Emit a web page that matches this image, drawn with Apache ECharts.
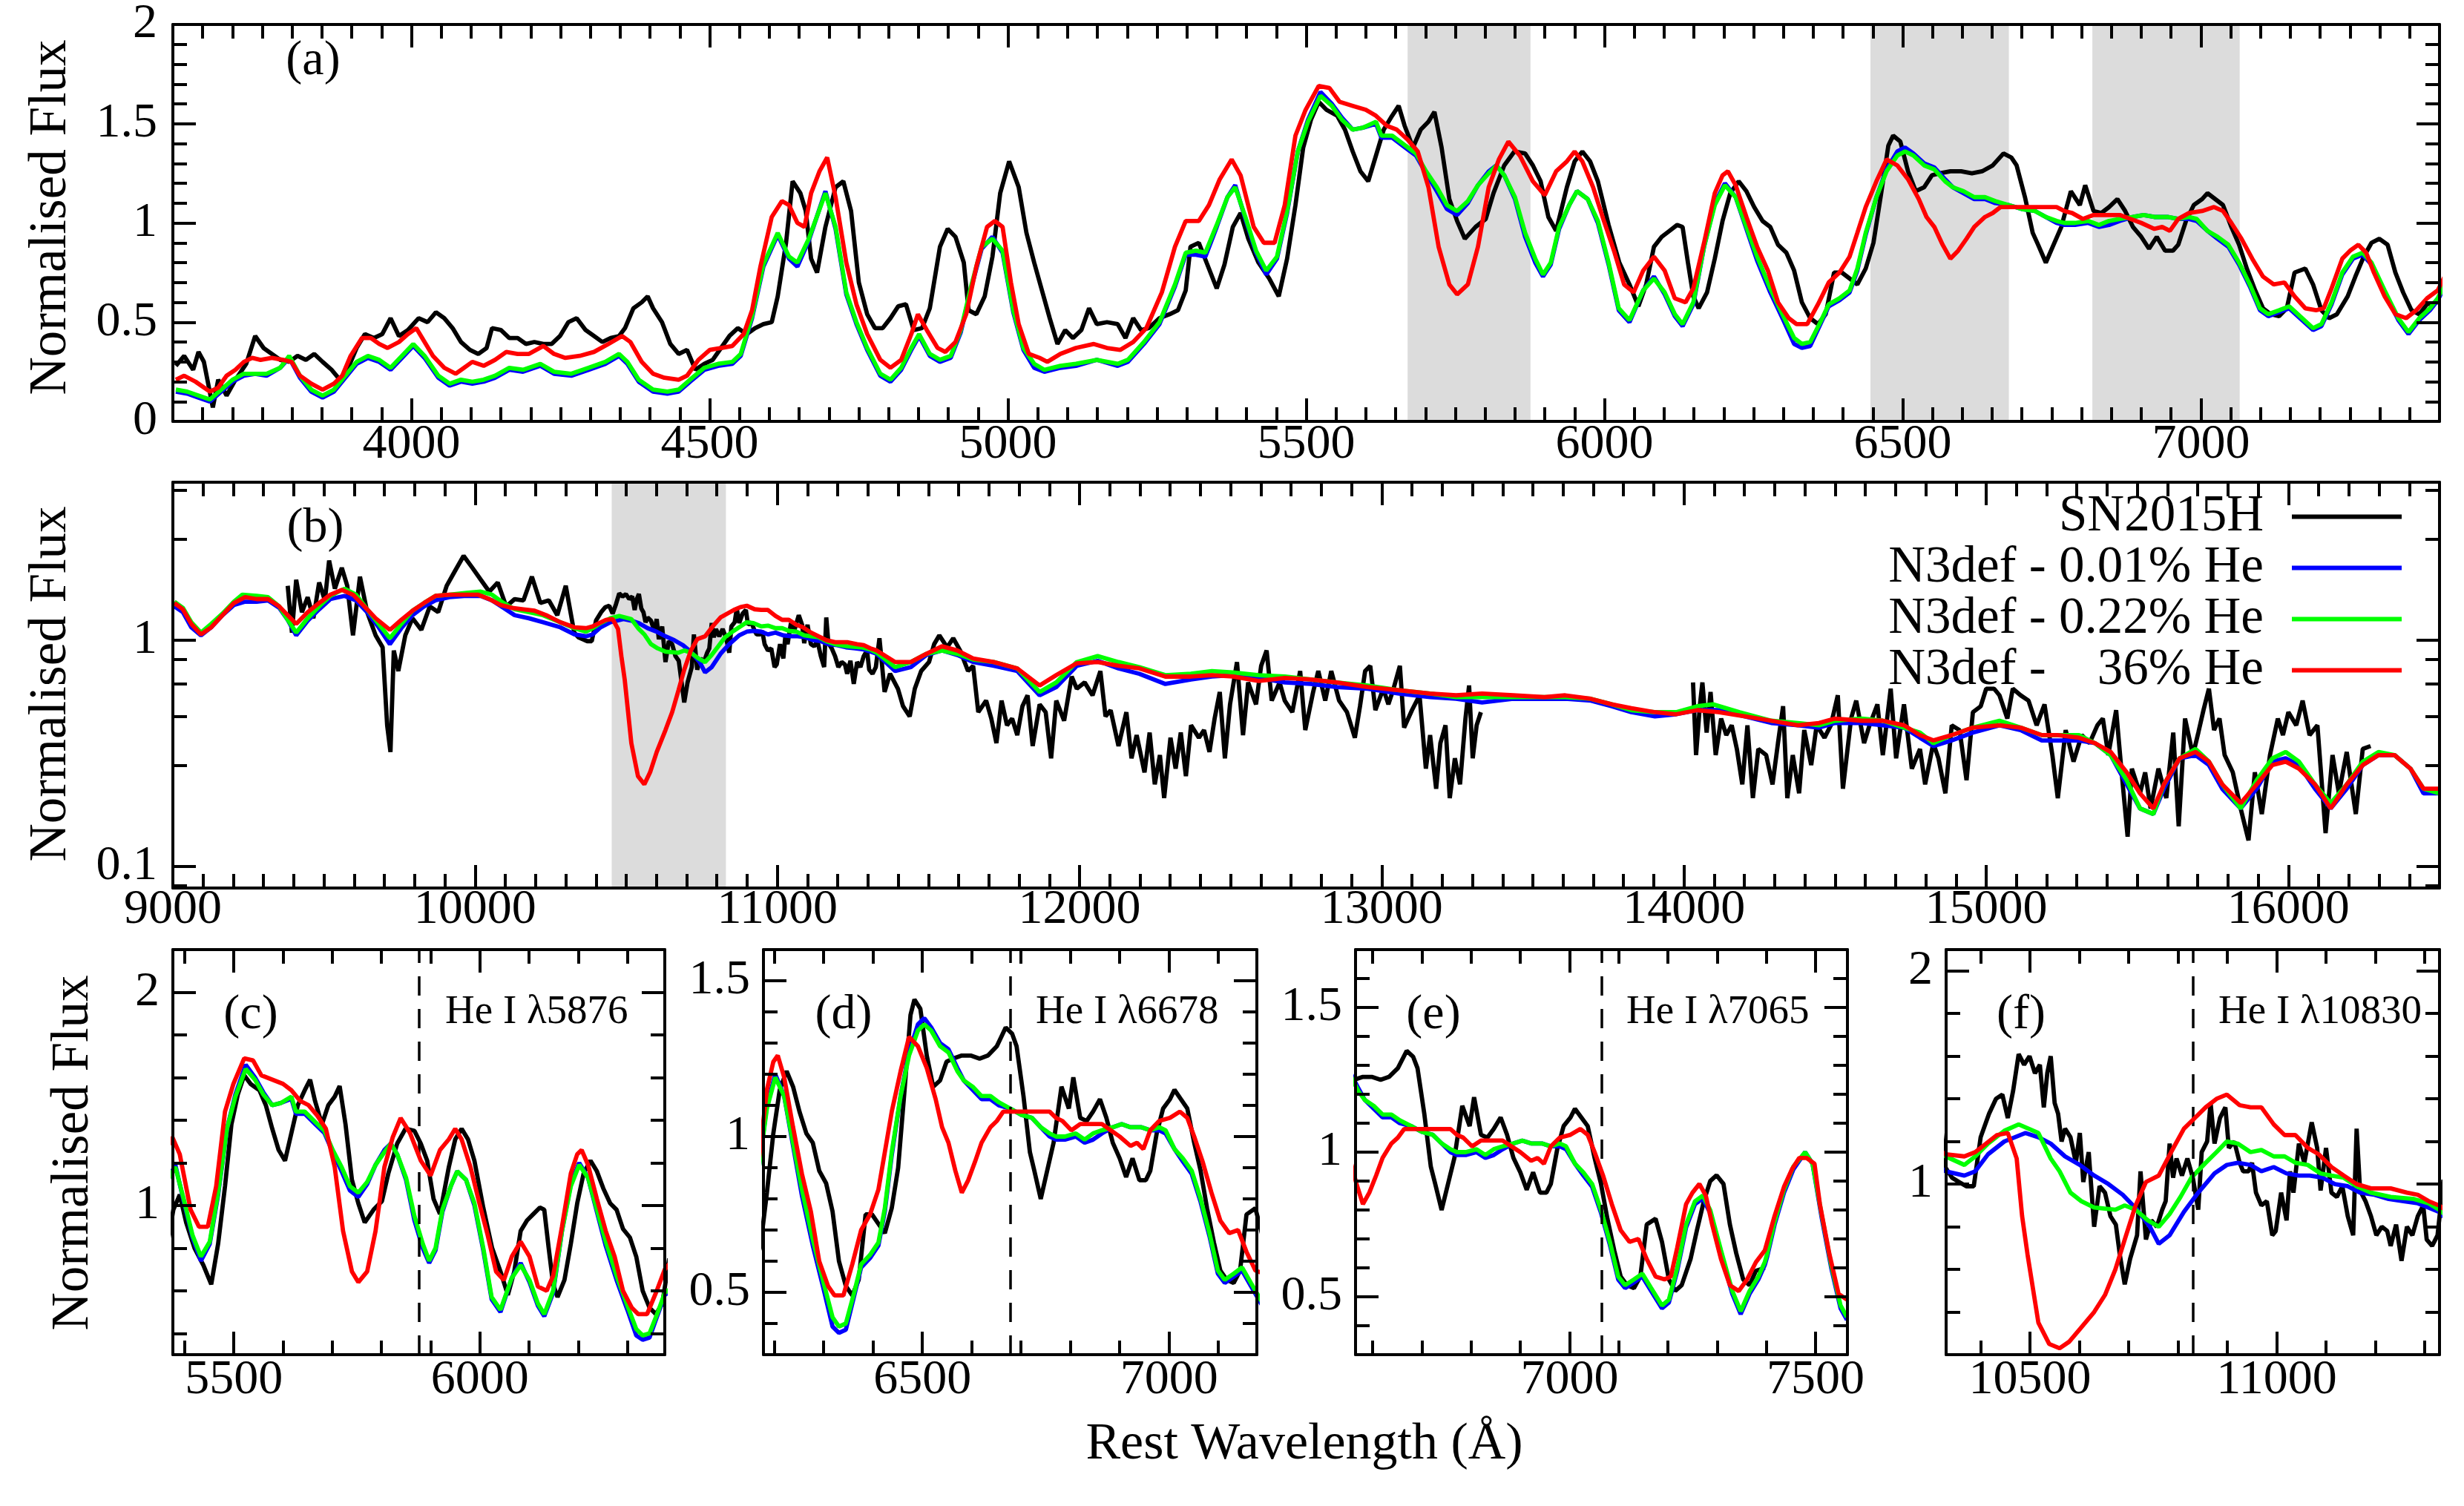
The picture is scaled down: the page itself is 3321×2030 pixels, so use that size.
<!DOCTYPE html>
<html>
<head>
<meta charset="utf-8">
<script src="https://cdn.jsdelivr.net/npm/echarts@6/dist/echarts.min.js"></script>
<style>
html,body{margin:0;padding:0;background:#fff;}
#c{width:3321px;height:2030px;}
</style>
</head>
<body>
<div id="c"></div>
<script>
// ---------------- DATA (wavelength in Angstrom, normalised flux) ----------------
const seriesNames = ['SN2015H', 'N3def - 0.01% He', 'N3def - 0.22% He', 'N3def -    36% He'];

// Optical range (panels a, c, d, e)
const obsOptical = [[3605,0.28],[3619,0.33],[3634,0.26],[3643,0.35],[3652,0.30],[3667,0.07],[3676,0.21],[3690,0.13],[3705,0.21],[3723,0.29],[3738,0.43],[3752,0.37],[3766,0.34],[3780,0.31],[3795,0.30],[3809,0.33],[3823,0.31],[3837,0.34],[3851,0.30],[3866,0.26],[3880,0.21],[3894,0.27],[3908,0.37],[3922,0.44],[3937,0.42],[3951,0.44],[3965,0.52],[3979,0.43],[3994,0.46],[4012,0.52],[4027,0.50],[4041,0.55],[4055,0.52],[4069,0.47],[4083,0.40],[4098,0.36],[4112,0.34],[4126,0.37],[4135,0.47],[4150,0.46],[4164,0.42],[4178,0.42],[4192,0.39],[4206,0.40],[4221,0.39],[4235,0.39],[4249,0.43],[4263,0.50],[4277,0.52],[4292,0.46],[4306,0.43],[4320,0.40],[4334,0.42],[4348,0.43],[4358,0.47],[4372,0.57],[4386,0.60],[4396,0.63],[4405,0.57],[4420,0.50],[4434,0.39],[4448,0.34],[4462,0.36],[4476,0.26],[4491,0.29],[4505,0.31],[4519,0.37],[4533,0.43],[4547,0.47],[4562,0.44],[4576,0.47],[4590,0.49],[4604,0.50],[4614,0.63],[4628,0.90],[4639,1.21],[4652,1.15],[4661,1.06],[4670,0.82],[4680,0.75],[4694,0.98],[4711,1.18],[4724,1.21],[4737,1.06],[4750,0.70],[4764,0.54],[4777,0.47],[4790,0.47],[4803,0.52],[4816,0.58],[4829,0.59],[4842,0.46],[4856,0.47],[4869,0.57],[4886,0.88],[4899,0.97],[4912,0.93],[4926,0.80],[4934,0.56],[4947,0.54],[4961,0.63],[4974,0.83],[4987,1.15],[5002,1.31],[5018,1.18],[5031,0.95],[5044,0.80],[5057,0.66],[5070,0.52],[5083,0.39],[5096,0.46],[5109,0.42],[5123,0.46],[5136,0.57],[5149,0.49],[5166,0.50],[5184,0.49],[5197,0.42],[5210,0.52],[5223,0.46],[5236,0.47],[5254,0.52],[5271,0.54],[5285,0.56],[5298,0.66],[5306,0.88],[5320,0.90],[5333,0.80],[5350,0.67],[5363,0.79],[5377,0.98],[5390,1.05],[5403,0.92],[5420,0.80],[5438,0.72],[5454,0.63],[5468,0.82],[5482,1.09],[5495,1.38],[5508,1.52],[5521,1.61],[5534,1.57],[5552,1.54],[5565,1.47],[5578,1.36],[5591,1.26],[5604,1.21],[5617,1.34],[5630,1.47],[5644,1.54],[5655,1.59],[5665,1.49],[5679,1.38],[5692,1.47],[5705,1.51],[5715,1.56],[5727,1.38],[5740,1.12],[5753,1.01],[5766,0.92],[5784,0.98],[5801,1.02],[5814,1.15],[5832,1.29],[5849,1.36],[5867,1.35],[5880,1.29],[5893,1.21],[5906,1.03],[5919,0.96],[5937,1.18],[5950,1.31],[5963,1.36],[5976,1.31],[5989,1.21],[6007,0.99],[6025,0.80],[6042,0.69],[6057,0.58],[6070,0.69],[6083,0.88],[6096,0.93],[6109,0.96],[6122,0.99],[6131,0.98],[6140,0.80],[6149,0.63],[6158,0.57],[6172,0.65],[6185,0.82],[6198,1.01],[6211,1.15],[6225,1.21],[6238,1.16],[6251,1.08],[6265,1.01],[6278,0.98],[6291,0.89],[6305,0.85],[6318,0.76],[6331,0.60],[6345,0.52],[6358,0.49],[6371,0.54],[6385,0.75],[6398,0.75],[6411,0.72],[6424,0.69],[6438,0.77],[6451,0.90],[6464,1.15],[6476,1.39],[6484,1.44],[6496,1.41],[6509,1.26],[6522,1.16],[6536,1.18],[6549,1.24],[6562,1.25],[6580,1.26],[6598,1.26],[6616,1.25],[6633,1.26],[6651,1.29],[6669,1.35],[6682,1.33],[6691,1.29],[6705,1.13],[6718,0.95],[6727,0.89],[6740,0.80],[6753,0.89],[6766,0.98],[6782,1.16],[6797,1.09],[6806,1.19],[6820,1.06],[6833,1.05],[6846,1.08],[6860,1.12],[6873,1.06],[6886,0.98],[6900,0.93],[6913,0.87],[6926,0.93],[6940,0.86],[6953,0.86],[6962,0.89],[6975,1.01],[6988,1.09],[7002,1.12],[7011,1.15],[7024,1.12],[7037,1.09],[7051,0.98],[7064,0.89],[7077,0.77],[7091,0.66],[7104,0.57],[7117,0.54],[7131,0.53],[7144,0.57],[7157,0.75],[7175,0.77],[7188,0.69],[7202,0.56],[7215,0.52],[7228,0.54],[7246,0.63],[7259,0.73],[7273,0.83],[7286,0.90],[7299,0.92],[7313,0.89],[7326,0.75],[7339,0.65],[7353,0.56],[7366,0.54],[7379,0.59],[7397,0.60]];

const he001Optical = [[3605,0.15],[3624,0.14],[3643,0.12],[3662,0.10],[3681,0.15],[3700,0.20],[3719,0.23],[3738,0.24],[3757,0.23],[3780,0.27],[3795,0.32],[3813,0.22],[3832,0.15],[3851,0.12],[3870,0.15],[3889,0.22],[3908,0.29],[3927,0.32],[3946,0.30],[3965,0.26],[3984,0.32],[4003,0.38],[4022,0.32],[4045,0.22],[4064,0.18],[4083,0.20],[4102,0.19],[4121,0.20],[4140,0.22],[4164,0.26],[4187,0.25],[4216,0.28],[4239,0.24],[4268,0.23],[4297,0.26],[4325,0.29],[4348,0.33],[4362,0.29],[4381,0.20],[4405,0.15],[4429,0.14],[4448,0.15],[4467,0.20],[4491,0.26],[4514,0.28],[4538,0.29],[4552,0.33],[4571,0.52],[4590,0.78],[4614,0.94],[4633,0.82],[4647,0.78],[4666,0.91],[4694,1.16],[4711,0.97],[4729,0.64],[4746,0.49],[4764,0.36],[4786,0.23],[4803,0.20],[4821,0.26],[4838,0.36],[4851,0.43],[4869,0.33],[4886,0.30],[4904,0.32],[4921,0.45],[4939,0.68],[4956,0.87],[4974,0.93],[4991,0.85],[5009,0.55],[5026,0.36],[5044,0.27],[5061,0.25],[5088,0.27],[5114,0.28],[5149,0.31],[5184,0.28],[5201,0.30],[5228,0.39],[5254,0.49],[5280,0.68],[5298,0.84],[5315,0.84],[5331,0.83],[5350,0.98],[5368,1.13],[5381,1.19],[5398,1.02],[5416,0.85],[5433,0.74],[5451,0.82],[5468,1.05],[5486,1.36],[5503,1.52],[5524,1.66],[5543,1.60],[5560,1.53],[5578,1.47],[5595,1.48],[5617,1.50],[5626,1.43],[5644,1.43],[5666,1.38],[5684,1.34],[5701,1.25],[5719,1.16],[5736,1.07],[5753,1.04],[5771,1.10],[5788,1.19],[5806,1.26],[5819,1.29],[5832,1.24],[5850,1.12],[5867,0.93],[5884,0.80],[5897,0.73],[5910,0.79],[5924,0.97],[5941,1.09],[5954,1.16],[5972,1.12],[5989,1.00],[6007,0.79],[6024,0.56],[6042,0.50],[6065,0.66],[6083,0.73],[6101,0.64],[6118,0.53],[6131,0.48],[6149,0.59],[6167,0.88],[6185,1.10],[6202,1.20],[6220,1.13],[6238,0.97],[6256,0.81],[6278,0.65],[6300,0.51],[6318,0.39],[6331,0.37],[6345,0.38],[6362,0.49],[6376,0.58],[6394,0.61],[6411,0.65],[6424,0.76],[6438,0.94],[6456,1.13],[6473,1.27],[6491,1.36],[6504,1.38],[6518,1.35],[6536,1.30],[6553,1.28],[6571,1.22],[6584,1.18],[6602,1.15],[6620,1.12],[6638,1.12],[6655,1.10],[6678,1.09],[6700,1.07],[6722,1.06],[6740,1.03],[6758,1.00],[6771,0.99],[6789,0.99],[6811,1.00],[6829,0.98],[6846,0.99],[6864,1.01],[6886,1.03],[6904,1.04],[6922,1.03],[6944,1.03],[6962,1.02],[6980,1.02],[6993,1.01],[7011,0.96],[7028,0.92],[7046,0.88],[7064,0.79],[7082,0.68],[7099,0.56],[7113,0.53],[7131,0.55],[7148,0.57],[7166,0.52],[7188,0.46],[7202,0.48],[7219,0.59],[7237,0.74],[7255,0.82],[7271,0.84],[7286,0.79],[7308,0.65],[7331,0.51],[7348,0.44],[7366,0.51],[7384,0.56],[7397,0.61],[7402,0.64],[7417,0.75],[7436,0.86],[7455,0.94],[7479,1.00],[7494,0.96],[7513,0.77],[7532,0.60],[7551,0.46],[7564,0.42]];

const he022Optical = [[3605,0.16],[3624,0.15],[3643,0.13],[3662,0.11],[3681,0.16],[3700,0.21],[3719,0.24],[3738,0.24],[3757,0.24],[3780,0.27],[3795,0.33],[3813,0.23],[3832,0.16],[3851,0.13],[3870,0.16],[3889,0.23],[3908,0.30],[3927,0.33],[3946,0.31],[3965,0.27],[3984,0.33],[4003,0.39],[4022,0.33],[4045,0.23],[4064,0.19],[4083,0.21],[4102,0.20],[4121,0.21],[4140,0.23],[4164,0.27],[4187,0.26],[4216,0.29],[4239,0.25],[4268,0.24],[4297,0.27],[4325,0.30],[4348,0.34],[4362,0.30],[4381,0.21],[4405,0.16],[4429,0.15],[4448,0.16],[4467,0.21],[4491,0.27],[4514,0.29],[4538,0.30],[4552,0.34],[4571,0.53],[4590,0.79],[4614,0.95],[4633,0.83],[4647,0.80],[4666,0.92],[4694,1.15],[4711,0.98],[4729,0.65],[4746,0.50],[4764,0.37],[4786,0.24],[4803,0.21],[4821,0.27],[4838,0.37],[4851,0.44],[4869,0.34],[4886,0.31],[4904,0.33],[4921,0.46],[4939,0.69],[4956,0.88],[4974,0.92],[4991,0.86],[5009,0.56],[5026,0.37],[5044,0.29],[5061,0.26],[5088,0.28],[5114,0.29],[5149,0.31],[5184,0.29],[5201,0.31],[5228,0.40],[5254,0.50],[5280,0.69],[5298,0.85],[5315,0.86],[5331,0.85],[5350,0.99],[5368,1.13],[5381,1.18],[5398,1.03],[5416,0.86],[5433,0.76],[5451,0.83],[5468,1.06],[5486,1.36],[5503,1.51],[5524,1.64],[5543,1.59],[5560,1.52],[5578,1.47],[5595,1.48],[5617,1.51],[5626,1.44],[5644,1.44],[5666,1.39],[5684,1.35],[5701,1.26],[5719,1.18],[5736,1.09],[5753,1.06],[5771,1.11],[5788,1.19],[5806,1.25],[5819,1.29],[5832,1.24],[5850,1.13],[5867,0.95],[5884,0.82],[5897,0.74],[5910,0.80],[5924,0.98],[5941,1.09],[5954,1.16],[5972,1.12],[5989,1.01],[6007,0.80],[6024,0.57],[6042,0.51],[6065,0.66],[6083,0.72],[6101,0.65],[6118,0.54],[6131,0.49],[6149,0.60],[6167,0.88],[6185,1.09],[6202,1.19],[6220,1.13],[6238,0.98],[6256,0.83],[6278,0.67],[6300,0.53],[6318,0.42],[6331,0.39],[6345,0.40],[6362,0.50],[6376,0.59],[6394,0.62],[6411,0.66],[6424,0.77],[6438,0.95],[6456,1.13],[6473,1.26],[6491,1.34],[6504,1.36],[6518,1.34],[6536,1.29],[6553,1.27],[6571,1.21],[6584,1.18],[6602,1.16],[6620,1.13],[6638,1.13],[6655,1.11],[6678,1.09],[6700,1.07],[6722,1.06],[6740,1.03],[6758,1.01],[6771,1.00],[6789,1.00],[6811,1.01],[6829,0.99],[6846,1.01],[6864,1.02],[6886,1.03],[6904,1.04],[6922,1.03],[6944,1.03],[6962,1.02],[6980,1.03],[6993,1.02],[7011,0.96],[7028,0.93],[7046,0.89],[7064,0.80],[7082,0.69],[7099,0.57],[7113,0.54],[7131,0.56],[7148,0.58],[7166,0.53],[7188,0.47],[7202,0.49],[7219,0.60],[7237,0.75],[7255,0.83],[7271,0.85],[7286,0.80],[7308,0.66],[7331,0.52],[7348,0.45],[7366,0.52],[7384,0.57],[7397,0.62],[7402,0.65],[7417,0.76],[7436,0.87],[7455,0.95],[7479,1.00],[7494,0.96],[7513,0.78],[7532,0.61],[7551,0.47],[7564,0.43]];

const he36Optical = [[3605,0.21],[3619,0.23],[3638,0.20],[3662,0.15],[3676,0.17],[3690,0.23],[3705,0.26],[3719,0.30],[3733,0.32],[3747,0.31],[3766,0.32],[3785,0.31],[3799,0.30],[3813,0.23],[3832,0.19],[3851,0.16],[3870,0.19],[3884,0.23],[3898,0.33],[3917,0.42],[3932,0.42],[3946,0.39],[3960,0.37],[3979,0.40],[3994,0.44],[4008,0.47],[4022,0.40],[4036,0.33],[4055,0.27],[4074,0.24],[4088,0.27],[4102,0.30],[4121,0.28],[4140,0.31],[4159,0.35],[4178,0.34],[4197,0.34],[4221,0.38],[4239,0.34],[4258,0.32],[4282,0.33],[4306,0.35],[4330,0.39],[4353,0.43],[4367,0.40],[4386,0.30],[4405,0.24],[4424,0.22],[4448,0.21],[4462,0.23],[4481,0.31],[4500,0.36],[4519,0.37],[4538,0.38],[4557,0.44],[4571,0.56],[4585,0.78],[4604,1.03],[4621,1.11],[4633,1.09],[4647,1.00],[4659,0.98],[4670,1.15],[4684,1.26],[4697,1.33],[4711,1.13],[4729,0.80],[4746,0.59],[4764,0.44],[4786,0.31],[4803,0.27],[4821,0.31],[4838,0.44],[4849,0.54],[4864,0.46],[4882,0.37],[4895,0.35],[4912,0.40],[4930,0.54],[4947,0.78],[4965,0.98],[4978,1.01],[4991,0.98],[5005,0.70],[5018,0.49],[5035,0.34],[5053,0.32],[5066,0.30],[5088,0.34],[5114,0.37],[5144,0.39],[5166,0.37],[5188,0.36],[5210,0.40],[5232,0.47],[5258,0.65],[5280,0.88],[5298,1.01],[5320,1.01],[5337,1.09],[5355,1.22],[5375,1.32],[5390,1.24],[5412,0.98],[5429,0.90],[5447,0.90],[5464,1.09],[5482,1.44],[5499,1.57],[5521,1.69],[5539,1.68],[5556,1.61],[5578,1.59],[5600,1.57],[5617,1.54],[5635,1.49],[5652,1.47],[5670,1.42],[5687,1.36],[5705,1.18],[5722,0.88],[5740,0.69],[5753,0.64],[5771,0.69],[5788,0.88],[5806,1.18],[5823,1.32],[5839,1.41],[5858,1.34],[5880,1.21],[5900,1.14],[5919,1.26],[5937,1.31],[5950,1.36],[5963,1.31],[5981,1.18],[5998,1.02],[6016,0.86],[6033,0.69],[6049,0.65],[6065,0.76],[6083,0.83],[6101,0.76],[6118,0.62],[6136,0.60],[6149,0.67],[6167,0.90],[6185,1.15],[6198,1.24],[6207,1.26],[6220,1.19],[6238,1.03],[6256,0.88],[6274,0.76],[6291,0.60],[6309,0.52],[6322,0.49],[6340,0.49],[6358,0.59],[6376,0.70],[6394,0.75],[6411,0.83],[6424,0.95],[6438,1.08],[6456,1.21],[6473,1.32],[6491,1.29],[6509,1.22],[6527,1.12],[6540,1.03],[6553,0.98],[6567,0.89],[6580,0.82],[6593,0.86],[6607,0.92],[6620,0.98],[6638,1.03],[6651,1.05],[6664,1.08],[6687,1.08],[6709,1.08],[6731,1.08],[6758,1.08],[6771,1.06],[6784,1.05],[6802,1.02],[6820,1.04],[6846,1.04],[6864,1.04],[6882,1.02],[6900,1.00],[6922,0.97],[6935,0.98],[6948,0.96],[6962,1.02],[6980,1.05],[7002,1.06],[7022,1.08],[7037,1.06],[7051,1.00],[7068,0.92],[7086,0.82],[7104,0.73],[7122,0.69],[7140,0.70],[7157,0.63],[7175,0.57],[7193,0.56],[7206,0.57],[7219,0.67],[7237,0.82],[7250,0.86],[7264,0.89],[7277,0.85],[7290,0.75],[7308,0.63],[7326,0.54],[7344,0.52],[7361,0.56],[7379,0.62],[7397,0.66],[7417,0.78],[7436,0.88],[7452,0.94],[7467,0.98],[7482,0.98],[7498,0.96],[7509,0.82],[7528,0.65],[7547,0.51],[7564,0.49]];

// Near-infrared range (panels b, f)
const obsNIR = [[9380,1.74],[9394,1.08],[9408,1.85],[9427,1.33],[9446,1.55],[9465,1.25],[9484,1.80],[9503,1.50],[9517,2.25],[9536,1.69],[9559,2.09],[9577,1.74],[9596,1.05],[9619,1.91],[9643,1.33],[9671,1.05],[9694,0.93],[9709,0.42],[9720,0.32],[9731,0.90],[9746,0.73],[9769,1.05],[9793,1.25],[9822,1.11],[9850,1.41],[9878,1.33],[9906,1.74],[9934,2.03],[9962,2.36],[9991,2.09],[10019,1.85],[10047,1.64],[10075,1.80],[10103,1.41],[10131,1.52],[10160,1.50],[10188,1.91],[10216,1.46],[10244,1.50],[10272,1.29],[10300,1.74],[10328,1.08],[10342,1.03],[10356,1.01],[10371,0.99],[10386,0.99],[10400,1.22],[10417,1.33],[10431,1.40],[10444,1.42],[10455,1.31],[10466,1.44],[10477,1.61],[10488,1.56],[10499,1.60],[10510,1.52],[10520,1.56],[10528,1.36],[10535,1.52],[10542,1.60],[10550,1.38],[10557,1.33],[10564,1.20],[10571,1.26],[10582,1.22],[10593,1.10],[10601,1.24],[10608,1.01],[10619,1.15],[10630,0.80],[10641,0.99],[10652,0.96],[10663,0.85],[10674,0.81],[10682,0.67],[10692,0.53],[10703,0.65],[10717,0.76],[10724,1.06],[10735,0.74],[10746,0.83],[10757,0.80],[10768,0.88],[10775,0.92],[10783,1.19],[10790,1.03],[10797,1.12],[10808,1.04],[10819,1.12],[10830,1.03],[10841,0.88],[10848,1.15],[10859,1.20],[10866,1.38],[10874,1.19],[10885,1.31],[10896,1.36],[10903,1.17],[10914,1.20],[10925,1.10],[10932,1.06],[10943,1.06],[10950,1.10],[10958,0.96],[10969,0.90],[10980,0.92],[10991,0.76],[10998,0.78],[11009,0.96],[11020,0.83],[11027,1.06],[11034,0.96],[11045,1.19],[11056,1.10],[11071,1.29],[11082,1.17],[11089,0.97],[11100,1.17],[11111,0.96],[11122,0.94],[11133,0.99],[11144,0.85],[11155,0.76],[11162,1.26],[11169,0.97],[11180,0.92],[11191,0.85],[11202,0.76],[11213,0.80],[11224,0.78],[11231,0.71],[11242,0.81],[11253,0.64],[11264,0.80],[11275,0.76],[11286,0.85],[11297,0.90],[11304,0.74],[11315,0.71],[11326,0.76],[11338,1.02],[11355,0.59],[11373,0.71],[11399,0.61],[11416,0.51],[11438,0.46],[11455,0.61],[11476,0.73],[11502,0.80],[11519,0.96],[11536,1.05],[11562,0.93],[11582,1.02],[11605,0.90],[11631,0.73],[11648,0.77],[11665,0.48],[11691,0.54],[11708,0.45],[11725,0.35],[11742,0.54],[11760,0.42],[11777,0.45],[11794,0.38],[11811,0.51],[11828,0.57],[11845,0.34],[11868,0.52],[11888,0.48],[11906,0.30],[11923,0.54],[11949,0.44],[11974,0.69],[11991,0.61],[12017,0.65],[12043,0.57],[12069,0.73],[12086,0.46],[12103,0.49],[12129,0.34],[12155,0.48],[12172,0.30],[12189,0.38],[12215,0.26],[12232,0.39],[12249,0.23],[12266,0.31],[12280,0.20],[12301,0.37],[12318,0.27],[12335,0.39],[12352,0.25],[12369,0.42],[12395,0.37],[12412,0.40],[12430,0.32],[12447,0.45],[12464,0.59],[12481,0.30],[12498,0.52],[12521,0.80],[12541,0.38],[12558,0.65],[12584,0.52],[12601,0.77],[12619,0.90],[12636,0.54],[12662,0.65],[12679,0.54],[12704,0.48],[12730,0.73],[12747,0.40],[12773,0.59],[12790,0.73],[12813,0.54],[12833,0.73],[12859,0.54],[12885,0.48],[12911,0.37],[12928,0.51],[12945,0.73],[12962,0.77],[12979,0.49],[13005,0.61],[13022,0.52],[13039,0.61],[13060,0.77],[13074,0.41],[13100,0.49],[13125,0.57],[13146,0.27],[13160,0.38],[13180,0.22],[13194,0.35],[13211,0.42],[13225,0.20],[13242,0.30],[13259,0.23],[13277,0.45],[13289,0.63],[13301,0.30],[13314,0.42],[13328,0.48],[13600,null],[14030,0.65],[14040,0.31],[14053,0.52],[14061,0.65],[14075,0.39],[14088,0.59],[14105,0.31],[14123,0.45],[14140,0.38],[14158,0.42],[14175,0.33],[14193,0.23],[14210,0.42],[14228,0.20],[14246,0.33],[14272,0.31],[14293,0.23],[14311,0.35],[14328,0.51],[14342,0.20],[14360,0.31],[14381,0.21],[14398,0.40],[14421,0.28],[14439,0.42],[14465,0.37],[14486,0.42],[14509,0.57],[14526,0.22],[14553,0.45],[14570,0.54],[14596,0.35],[14614,0.42],[14640,0.52],[14658,0.31],[14684,0.61],[14702,0.30],[14728,0.52],[14754,0.27],[14781,0.33],[14798,0.23],[14825,0.35],[14842,0.30],[14865,0.21],[14886,0.42],[14912,0.40],[14935,0.24],[14956,0.48],[14982,0.51],[15000,0.61],[15026,0.61],[15044,0.57],[15070,0.45],[15088,0.61],[15114,0.57],[15140,0.54],[15167,0.42],[15193,0.52],[15219,0.31],[15237,0.20],[15263,0.40],[15289,0.29],[15316,0.38],[15342,0.35],[15368,0.42],[15386,0.45],[15404,0.31],[15430,0.49],[15447,0.27],[15468,0.135],[15482,0.27],[15509,0.21],[15526,0.26],[15544,0.18],[15570,0.27],[15596,0.20],[15619,0.39],[15637,0.15],[15658,0.45],[15684,0.31],[15702,0.39],[15719,0.49],[15737,0.61],[15754,0.40],[15772,0.45],[15789,0.31],[15816,0.26],[15842,0.18],[15868,0.13],[15889,0.26],[15912,0.17],[15939,0.31],[15965,0.45],[15982,0.38],[16000,0.48],[16026,0.42],[16047,0.54],[16070,0.38],[16096,0.42],[16123,0.14],[16146,0.31],[16167,0.21],[16193,0.32],[16223,0.17],[16246,0.33],[16272,0.34]];

const he001NIR = [[9005,1.41],[9033,1.33],[9061,1.14],[9093,1.05],[9127,1.14],[9164,1.29],[9202,1.43],[9239,1.48],[9277,1.48],[9315,1.50],[9352,1.39],[9380,1.23],[9408,1.05],[9446,1.22],[9484,1.37],[9521,1.52],[9568,1.57],[9606,1.50],[9643,1.33],[9681,1.14],[9718,0.96],[9756,1.13],[9793,1.29],[9831,1.41],[9869,1.50],[9915,1.55],[9972,1.57],[10019,1.57],[10056,1.50],[10094,1.39],[10131,1.29],[10178,1.25],[10225,1.20],[10282,1.14],[10329,1.06],[10367,1.04],[10389,1.06],[10415,1.14],[10448,1.20],[10491,1.24],[10517,1.22],[10542,1.19],[10571,1.13],[10601,1.09],[10630,1.04],[10659,1.00],[10688,0.95],[10717,0.88],[10743,0.80],[10761,0.72],[10783,0.76],[10812,0.87],[10841,0.96],[10874,1.05],[10899,1.09],[10921,1.10],[10947,1.09],[10969,1.06],[10994,1.08],[11020,1.05],[11045,1.04],[11067,1.04],[11093,1.03],[11118,1.00],[11144,0.99],[11169,0.96],[11198,0.95],[11227,0.93],[11257,0.92],[11286,0.91],[11308,0.89],[11329,0.87],[11390,0.73],[11442,0.76],[11493,0.86],[11545,0.90],[11596,0.86],[11648,0.80],[11716,0.77],[11794,0.73],[11868,0.57],[11923,0.62],[11991,0.77],[12060,0.81],[12129,0.75],[12198,0.71],[12284,0.64],[12369,0.67],[12438,0.69],[12507,0.70],[12593,0.68],[12679,0.65],[12765,0.64],[12851,0.62],[12954,0.61],[13057,0.58],[13160,0.56],[13246,0.55],[13332,0.53],[13435,0.55],[13538,0.55],[13607,0.55],[13692,0.54],[13761,0.51],[13826,0.48],[13904,0.46],[13974,0.47],[14044,0.49],[14114,0.49],[14202,0.46],[14289,0.43],[14377,0.42],[14447,0.41],[14500,0.43],[14588,0.43],[14658,0.42],[14728,0.41],[14781,0.37],[14825,0.34],[14886,0.36],[14956,0.39],[15044,0.42],[15114,0.40],[15184,0.36],[15237,0.36],[15307,0.36],[15360,0.35],[15412,0.31],[15465,0.23],[15509,0.18],[15553,0.17],[15588,0.22],[15640,0.30],[15693,0.31],[15737,0.28],[15781,0.22],[15842,0.18],[15895,0.22],[15947,0.29],[15991,0.30],[16035,0.28],[16088,0.22],[16140,0.18],[16193,0.22],[16246,0.28],[16298,0.31],[16351,0.31],[16404,0.27],[16447,0.21],[16500,0.21]];

const he022NIR = [[9005,1.48],[9033,1.39],[9061,1.20],[9093,1.08],[9127,1.18],[9164,1.31],[9202,1.48],[9230,1.59],[9277,1.57],[9315,1.55],[9352,1.41],[9380,1.23],[9408,1.08],[9446,1.25],[9484,1.41],[9521,1.57],[9568,1.69],[9606,1.59],[9643,1.37],[9681,1.18],[9718,1.02],[9756,1.18],[9793,1.35],[9831,1.46],[9869,1.57],[9915,1.59],[9972,1.62],[10019,1.64],[10056,1.59],[10094,1.46],[10131,1.37],[10178,1.33],[10225,1.29],[10282,1.20],[10329,1.13],[10367,1.09],[10389,1.13],[10415,1.19],[10448,1.25],[10477,1.28],[10517,1.24],[10542,1.12],[10560,1.06],[10582,0.96],[10604,0.92],[10630,0.89],[10673,0.88],[10692,0.90],[10714,0.88],[10739,0.83],[10761,0.80],[10783,0.86],[10805,0.94],[10827,1.03],[10856,1.10],[10878,1.15],[10899,1.20],[10921,1.19],[10947,1.15],[10969,1.16],[10994,1.13],[11016,1.13],[11038,1.10],[11063,1.09],[11089,1.05],[11111,1.04],[11136,1.03],[11162,0.99],[11191,0.96],[11231,0.94],[11278,0.93],[11308,0.91],[11329,0.88],[11390,0.76],[11442,0.80],[11493,0.87],[11545,0.90],[11596,0.87],[11648,0.82],[11716,0.80],[11794,0.75],[11868,0.59],[11923,0.65],[11991,0.80],[12060,0.85],[12129,0.80],[12198,0.76],[12284,0.70],[12369,0.71],[12438,0.73],[12507,0.72],[12593,0.70],[12679,0.69],[12765,0.67],[12851,0.65],[12954,0.63],[13057,0.60],[13160,0.58],[13246,0.56],[13332,0.56],[13435,0.56],[13538,0.56],[13607,0.56],[13692,0.55],[13761,0.52],[13826,0.49],[13904,0.48],[13974,0.48],[14044,0.51],[14096,0.52],[14184,0.48],[14289,0.44],[14377,0.43],[14447,0.42],[14500,0.44],[14588,0.45],[14658,0.44],[14728,0.41],[14781,0.39],[14825,0.35],[14886,0.38],[14956,0.41],[15044,0.44],[15114,0.41],[15184,0.38],[15237,0.38],[15307,0.38],[15360,0.35],[15412,0.31],[15465,0.24],[15509,0.18],[15553,0.17],[15588,0.23],[15640,0.30],[15693,0.33],[15737,0.29],[15781,0.23],[15842,0.18],[15895,0.24],[15947,0.30],[15991,0.32],[16035,0.29],[16088,0.23],[16140,0.19],[16193,0.23],[16246,0.29],[16298,0.32],[16351,0.31],[16404,0.27],[16447,0.22],[16500,0.21]];

const he36NIR = [[9005,1.46],[9033,1.37],[9061,1.18],[9093,1.06],[9127,1.14],[9164,1.29],[9202,1.46],[9239,1.55],[9277,1.52],[9315,1.52],[9352,1.41],[9380,1.29],[9408,1.18],[9446,1.33],[9484,1.46],[9521,1.59],[9559,1.67],[9596,1.59],[9634,1.41],[9671,1.25],[9718,1.11],[9756,1.23],[9793,1.35],[9831,1.46],[9869,1.57],[9915,1.59],[9972,1.59],[10009,1.59],[10047,1.52],[10085,1.43],[10122,1.39],[10160,1.37],[10197,1.35],[10235,1.29],[10282,1.20],[10329,1.14],[10367,1.13],[10389,1.15],[10411,1.19],[10433,1.23],[10455,1.24],[10473,1.12],[10484,0.85],[10495,0.67],[10517,0.35],[10539,0.25],[10560,0.23],[10579,0.26],[10601,0.32],[10630,0.40],[10652,0.48],[10673,0.60],[10692,0.74],[10714,0.90],[10735,1.01],[10761,1.04],[10786,1.15],[10812,1.26],[10834,1.31],[10856,1.36],[10878,1.40],[10899,1.42],[10925,1.37],[10947,1.36],[10969,1.36],[10994,1.28],[11016,1.23],[11038,1.23],[11063,1.17],[11085,1.14],[11111,1.08],[11136,1.04],[11162,1.00],[11191,0.98],[11231,0.98],[11264,0.96],[11286,0.95],[11308,0.92],[11329,0.90],[11390,0.80],[11442,0.80],[11493,0.87],[11545,0.94],[11596,0.90],[11648,0.83],[11716,0.80],[11794,0.75],[11868,0.63],[11923,0.70],[11991,0.79],[12060,0.80],[12129,0.77],[12198,0.75],[12284,0.69],[12369,0.69],[12438,0.70],[12507,0.69],[12593,0.66],[12679,0.68],[12765,0.67],[12851,0.65],[12954,0.62],[13057,0.60],[13160,0.58],[13246,0.57],[13332,0.58],[13435,0.57],[13538,0.56],[13607,0.57],[13692,0.55],[13761,0.52],[13826,0.50],[13904,0.48],[13974,0.47],[14044,0.49],[14114,0.48],[14202,0.46],[14289,0.44],[14377,0.42],[14447,0.43],[14500,0.45],[14588,0.44],[14658,0.44],[14728,0.42],[14781,0.38],[14825,0.36],[14886,0.38],[14956,0.41],[15044,0.42],[15114,0.41],[15184,0.38],[15237,0.38],[15307,0.37],[15360,0.35],[15412,0.32],[15465,0.26],[15509,0.21],[15553,0.18],[15588,0.23],[15640,0.30],[15693,0.32],[15737,0.29],[15781,0.23],[15842,0.19],[15895,0.23],[15947,0.28],[15991,0.29],[16035,0.27],[16088,0.23],[16140,0.18],[16193,0.23],[16246,0.28],[16298,0.31],[16351,0.31],[16404,0.27],[16447,0.22],[16500,0.22]];

// Shaded velocity windows and He I rest wavelengths
const shadeOptical = [[5670,5876],[6446,6678],[6818,7065]];
const shadeNIR = [[10452,10830]];
const heLines = [5876, 6678, 7065, 10830];
const heLabels = ['He I \u03bb5876', 'He I \u03bb6678', 'He I \u03bb7065', 'He I \u03bb10830'];
const panelLabels = ['(a)', '(b)', '(c)', '(d)', '(e)', '(f)'];

// Axis ranges and tick values
const xRanges = [[3600,7400],[9000,16500],[5376,6376],[6178,7178],[6565,7565],[10330,11330]];
const yRanges = [[0,2],[0.08,5],[0.3,2.2],[0.3,1.6],[0.3,1.7],[0.2,2.1]];
const xMajorTicks = [
  [4000,4500,5000,5500,6000,6500,7000],
  [9000,10000,11000,12000,13000,14000,15000,16000],
  [5500,6000],[6500,7000],[7000,7500],[10500,11000]
];
const xMinorStep = [50,100,100,100,100,100];
const yMajorTicks = [[0,0.5,1,1.5,2],[0.1,1],[1,2],[0.5,1,1.5],[0.5,1,1.5],[1,2]];
const yMinorTicksLog = [0.082,0.28,0.46,0.64,0.82,2.8,4.6];
const yMinorStep = [0.1,null,0.2,0.1,0.1,0.2];

// ---------------- LAYOUT ----------------
const FONT = 'Liberation Serif';
const grids = [
  {left:233, top:19, width:3055, height:549},
  {left:233, top:650, width:3055, height:547},
  {left:233, top:1280, width:663, height:546},
  {left:1029, top:1280, width:665, height:546},
  {left:1827, top:1280, width:663, height:546},
  {left:2623, top:1280, width:665, height:546}
];
const xLabelMargin = [12, 10, 15, 15, 15, 15];
const yLabelMargin = [21, 21, 18, 18, 18, 18];

function stepTicks(min, max, step) {
  const out = [];
  const start = Math.ceil(min / step - 1e-9) * step;
  for (let v = start; v <= max + 1e-9; v += step) out.push(+v.toFixed(4));
  return out;
}

const lineStyleAxis = {color:'#000', width:4};
const tickStyle = {color:'#000', width:4};
const MAJ = 31, MIN = 19;

const xAxes = [], yAxes = [];
grids.forEach((g, i) => {
  const [x0, x1] = xRanges[i];
  const [y0, y1] = yRanges[i];
  const xMin = stepTicks(x0, x1, xMinorStep[i]);
  const yMin = yMinorStep[i] ? stepTicks(y0, y1, yMinorStep[i]) : yMinorTicksLog;
  const yType = i === 1 ? 'log' : 'value';
  const xb = {gridIndex:i, type:'value', min:x0, max:x1, splitLine:{show:false}, z:10};
  const lbl = {fontFamily:FONT, fontSize:66, color:'#000', lineHeight:40, formatter: v => String(v)};
  xAxes.push(
    Object.assign({}, xb, {position:'bottom', axisLine:{show:true, onZero:false, lineStyle:lineStyleAxis},
      axisTick:{show:true, inside:true, length:MAJ, customValues:xMajorTicks[i], lineStyle:tickStyle},
      axisLabel:Object.assign({show:true, customValues:xMajorTicks[i], margin:xLabelMargin[i]}, lbl)}),
    Object.assign({}, xb, {position:'bottom', axisLine:{show:false, onZero:false},
      axisTick:{show:true, inside:true, length:MIN, customValues:xMin, lineStyle:tickStyle}, axisLabel:{show:false}}),
    Object.assign({}, xb, {position:'top', axisLine:{show:true, onZero:false, lineStyle:lineStyleAxis},
      axisTick:{show:true, inside:true, length:MAJ, customValues:xMajorTicks[i], lineStyle:tickStyle}, axisLabel:{show:false}}),
    Object.assign({}, xb, {position:'top', axisLine:{show:false, onZero:false},
      axisTick:{show:true, inside:true, length:MIN, customValues:xMin, lineStyle:tickStyle}, axisLabel:{show:false}})
  );
  const yb = {gridIndex:i, type:yType, min:y0, max:y1, splitLine:{show:false}, z:10};
  if (yType === 'log') yb.logBase = 10;
  const ylbl = {fontFamily:FONT, fontSize:66, color:'#000', formatter: v => String(+(+v).toFixed(3))};
  yAxes.push(
    Object.assign({}, yb, {position:'left', axisLine:{show:true, onZero:false, lineStyle:lineStyleAxis},
      axisTick:{show:true, inside:true, length:MAJ, customValues:yMajorTicks[i], lineStyle:tickStyle},
      axisLabel:Object.assign({show:true, customValues:yMajorTicks[i], margin:yLabelMargin[i]}, ylbl)}),
    Object.assign({}, yb, {position:'left', axisLine:{show:false, onZero:false},
      axisTick:{show:true, inside:true, length:MIN, customValues:yMin, lineStyle:tickStyle}, axisLabel:{show:false}}),
    Object.assign({}, yb, {position:'right', axisLine:{show:true, onZero:false, lineStyle:lineStyleAxis},
      axisTick:{show:true, inside:true, length:MAJ, customValues:yMajorTicks[i], lineStyle:tickStyle}, axisLabel:{show:false}}),
    Object.assign({}, yb, {position:'right', axisLine:{show:false, onZero:false},
      axisTick:{show:true, inside:true, length:MIN, customValues:yMin, lineStyle:tickStyle}, axisLabel:{show:false}})
  );
});

const colors = ['#000000', '#0000ff', '#00ff00', '#ff0000'];
const optSets = [obsOptical, he001Optical, he022Optical, he36Optical];
const nirSets = [obsNIR, he001NIR, he022NIR, he36NIR];

const series = [];
grids.forEach((g, i) => {
  const sets = (i === 1 || i === 5) ? nirSets : optSets;
  const deco = {type:'line', xAxisIndex:i*4, yAxisIndex:i*4, data:[], silent:true, symbol:'none'};
  if (i === 0) deco.markArea = {silent:true, itemStyle:{color:'#dcdcdc'}, data: shadeOptical.map(r => [{xAxis:r[0]},{xAxis:r[1]}])};
  if (i === 1) deco.markArea = {silent:true, itemStyle:{color:'#dcdcdc'}, data: shadeNIR.map(r => [{xAxis:r[0]},{xAxis:r[1]}])};
  if (i >= 2) deco.markLine = {silent:true, symbol:['none','none'], label:{show:false},
    lineStyle:{type:[26,18], width:3.5, color:'#000'}, data:[{xAxis: heLines[i-2]}]};
  series.push(deco);
  sets.forEach((d, k) => {
    series.push({
      type:'line', name:seriesNames[k], xAxisIndex:i*4, yAxisIndex:i*4, data:d,
      showSymbol:false, symbol:'none', clip:true, connectNulls:false,
      color:colors[k], lineStyle:{color:colors[k], width:5.8}, z:2+k, animation:false
    });
  });
});

const graphics = [];
const labelPos = [[422,83],[425,713],[338,1369],[1137,1369],[1932,1369],[2724,1369]];
panelLabels.forEach((t, i) => graphics.push({type:'text', x:labelPos[i][0], y:labelPos[i][1],
  style:{text:t, fontFamily:FONT, fontSize:66, fill:'#000', align:'center', verticalAlign:'middle'}}));
const heX = [600, 1396, 2192, 2990];
heLabels.forEach((t, i) => graphics.push({type:'text', x:heX[i], y:1365,
  style:{text:t, fontFamily:FONT, fontSize:55, fill:'#000', align:'left', verticalAlign:'middle'}}));
[[69,293],[69,922],[99,1554]].forEach(p => graphics.push({type:'text', x:p[0], y:p[1], rotation:Math.PI/2,
  style:{text:'Normalised Flux', fontFamily:FONT, fontSize:71, fill:'#000', align:'center', verticalAlign:'middle'}}));
graphics.push({type:'text', x:1758, y:1948,
  style:{text:'Rest Wavelength (\u00c5)', fontFamily:FONT, fontSize:70, fill:'#000', align:'center', verticalAlign:'middle'}});

const chart = echarts.init(document.getElementById('c'), null, {renderer:'canvas', width:3321, height:2030});
chart.setOption({
  animation:false,
  backgroundColor:'#ffffff',
  textStyle:{fontFamily:FONT},
  grid: grids,
  xAxis: xAxes,
  yAxis: yAxes,
  legend: {
    data: seriesNames, orient:'vertical', align:'right', right:79, top:657,
    itemWidth:148, itemHeight:6, itemGap:0, icon:'rect', selectedMode:false,
    textStyle:{fontFamily:FONT, fontSize:69, color:'#000', lineHeight:69, padding:[0,33,0,0]}
  },
  series: series,
  graphic: graphics
});
</script>
</body>
</html>
